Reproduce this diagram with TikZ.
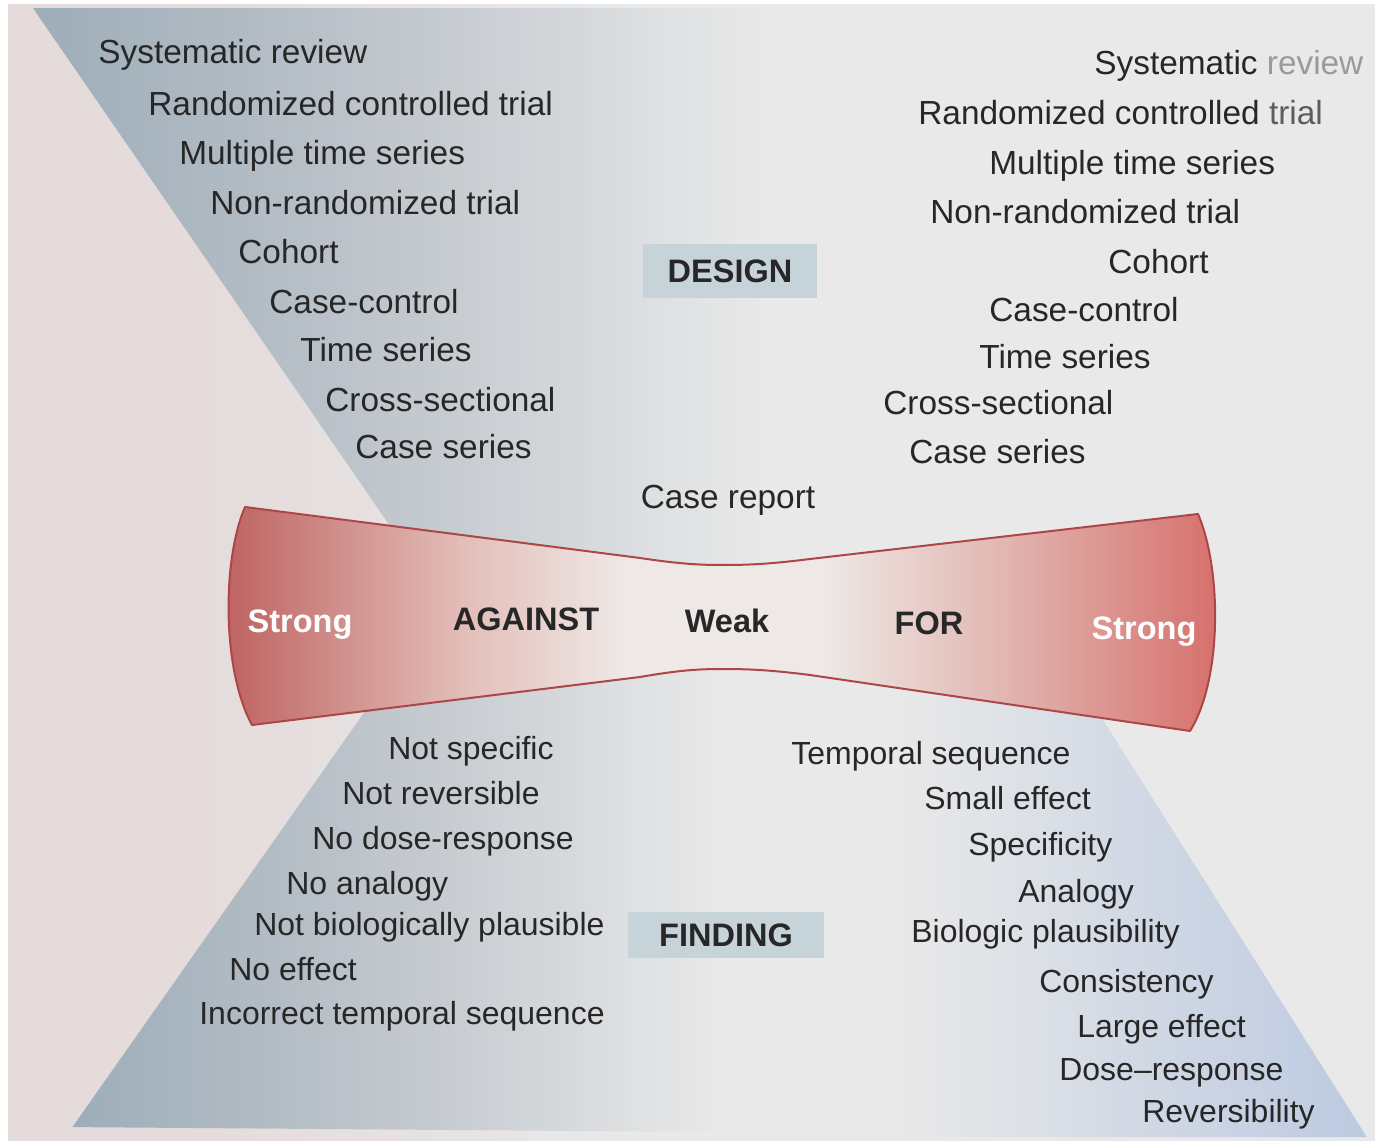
\documentclass[tikz,border=0pt]{standalone}
\usepackage{fontspec}
\setmainfont{Liberation Sans}
\usepackage{xcolor}
\usepackage{tikz}
\usetikzlibrary{calc,fadings}
\definecolor{pagebg}{HTML}{E9E9E9}
\definecolor{pagepink}{HTML}{E5DBDB}
\definecolor{wedgeblue}{HTML}{9DAEBA}
\definecolor{wedgelav}{HTML}{BCCAE1}
\definecolor{tieredL}{HTML}{BE6260}
\definecolor{tieredR}{HTML}{D66F6B}
\definecolor{tierim}{HTML}{AE4648}
\definecolor{tiepink}{HTML}{E3BDB8}
\definecolor{tiewhite}{HTML}{EEE8E6}
\definecolor{tagblue}{HTML}{C6D4DA}
\definecolor{inkgray}{HTML}{272727}
\definecolor{glaregray}{HTML}{9A9A9A}
% shadings (inner 25bp--75bp covers the path)
\pgfdeclarehorizontalshading{tieshade}{100bp}{color(0bp)=(tieredL); color(25bp)=(tieredL);
  color(37bp)=(tiepink); color(45bp)=(tiewhite); color(55bp)=(tiewhite);
  color(63bp)=(tiepink); color(75bp)=(tieredR); color(100bp)=(tieredR)}
\pgfdeclarehorizontalshading{pageshade}{100bp}{color(0bp)=(pagepink); color(25bp)=(pagepink);
  color(32bp)=(pagepink); color(48bp)=(pagebg); color(100bp)=(pagebg)}
% fadings for the wedges
\tikzfading[name=fade wedge, left color=transparent!0, right color=transparent!100]
\tikzfading[name=fade floorL, left color=transparent!0, right color=transparent!100,
  middle color=transparent!100]
\tikzfading[name=fade floorR, left color=transparent!100, right color=transparent!0]
\tikzset{
  cue/.style={font=\fontsize{19}{23}\selectfont, text=inkgray, inner sep=0pt},
  cuelow/.style={font=\fontsize{18.2}{22}\selectfont, text=inkgray, inner sep=0pt},
  tielabel/.style={font=\fontsize{18.5}{22}\selectfont\bfseries, text=inkgray, inner sep=0pt},
  tag/.style={font=\fontsize{18.5}{22}\selectfont\bfseries, text=inkgray, fill=tagblue,
    inner sep=0pt},
}

\begin{document}
\begin{tikzpicture}[x=0.02cm,y=-0.02cm]
  % Weighing evidence: design ladder (top), findings (bottom), strength bar (middle)
  \def\bl{12}            % centre-to-baseline offset (px)
  \useasboundingbox (0,0) rectangle (1375,1141);
  % --- Page ---
  \fill[white] (0,0) rectangle (1375,1141);
  \shade[shading=pageshade] (8,5) rectangle (1375,1141);
  % --- Wedges ---
  \fill[wedgeblue,path fading=fade wedge]
    (33,8) -- (760,8) -- (760,600) -- (441,600) -- cycle;
  \fill[wedgeblue,path fading=fade floorL]
    (73,1127) -- (430,620) -- (1040,620) -- (1367,1137) -- cycle;
  \fill[wedgelav,path fading=fade floorR]
    (900,620) -- (1040,620) -- (1367,1137) -- (900,1137) -- cycle;
  % --- Strength bar (bow tie) ---
  \shade[shading=tieshade,draw=tierim,line width=0.04cm,line join=round]
    (245,507) -- (640,558) .. controls (680,564) and (700,565) .. (722,565)
    .. controls (750,565) and (770,564) .. (810,559) -- (1198,514)
    .. controls (1222,570) and (1222,680) .. (1190,731)
    -- (810,675) .. controls (770,670) and (750,669) .. (722,669)
    .. controls (700,669) and (680,670) .. (640,677) -- (252,725)
    .. controls (222,670) and (222,560) .. (245,507) -- cycle;
  \node[tielabel,text=white,anchor=base] (strongL) at (300,620+\bl) {Strong};
  \node[tielabel,anchor=base] (against) at (526,618+\bl) {AGAINST};
  \node[tielabel,anchor=base] (weak) at (727,620+\bl) {Weak};
  \node[tielabel,anchor=base] (for) at (929,622+\bl) {FOR};
  \node[tielabel,text=white,anchor=base] (strongR) at (1144,627+\bl) {Strong};
  % --- Tags ---
  \node[tag,minimum width=3.48cm,minimum height=1.1cm] (design) at (730,271) {DESIGN};
  \node[tag,minimum width=3.94cm,minimum height=0.92cm] (finding) at (726,935) {FINDING};
  % --- Designs, against side (top left) ---
  \foreach \t/\x/\y [count=\i] in {Systematic review/98/52,
      Randomized controlled trial/148/104, Multiple time series/179/153,
      Non-randomized trial/210/203, Cohort/238/252, Case-control/269/302,
      Time series/300/350, Cross-sectional/325/400, Case series/355/447}
    \node[cue,anchor=base west] (dl\i) at (\x,\y+\bl) {\t};
  % --- Designs, for side (top right) ---
  \node[cue,anchor=base west] (dr1) at (1094,63+\bl)
    {Systematic {\color{glaregray}review}};
  \node[cue,anchor=base west] (dr2) at (918,113+\bl)
    {Randomized controlled {\color{inkgray!75}trial}};
  \foreach \t/\x/\y [count=\i from 3] in {Multiple time series/989/163,
      Non-randomized trial/930/212, Cohort/1108/262, Case-control/989/310,
      Time series/979/357, Cross-sectional/883/403, Case series/909/452}
    \node[cue,anchor=base west] (dr\i) at (\x,\y+\bl) {\t};
  \node[cue,anchor=base] (report) at (728,497+\bl) {Case report};
  % --- Findings against (bottom left) ---
  \foreach \t/\x/\y [count=\i] in {Not specific/388/747, Not reversible/342/792,
      No dose-response/312/837, No analogy/286/882,
      Not biologically plausible/254/923, No effect/229/968,
      Incorrect temporal sequence/199/1012}
    \node[cuelow,anchor=base west] (fl\i) at (\x,\y+\bl) {\t};
  % --- Findings for (bottom right) ---
  \foreach \t/\x/\y [count=\i] in {Temporal sequence/791/752, Small effect/924/797,
      Specificity/968/843, Analogy/1018/890, Biologic plausibility/911/930,
      Consistency/1039/980, Large effect/1077/1025, Dose--response/1059/1068,
      Reversibility/1142/1110}
    \node[cuelow,anchor=base west] (fr\i) at (\x,\y+\bl) {\t};
\end{tikzpicture}
\end{document}
